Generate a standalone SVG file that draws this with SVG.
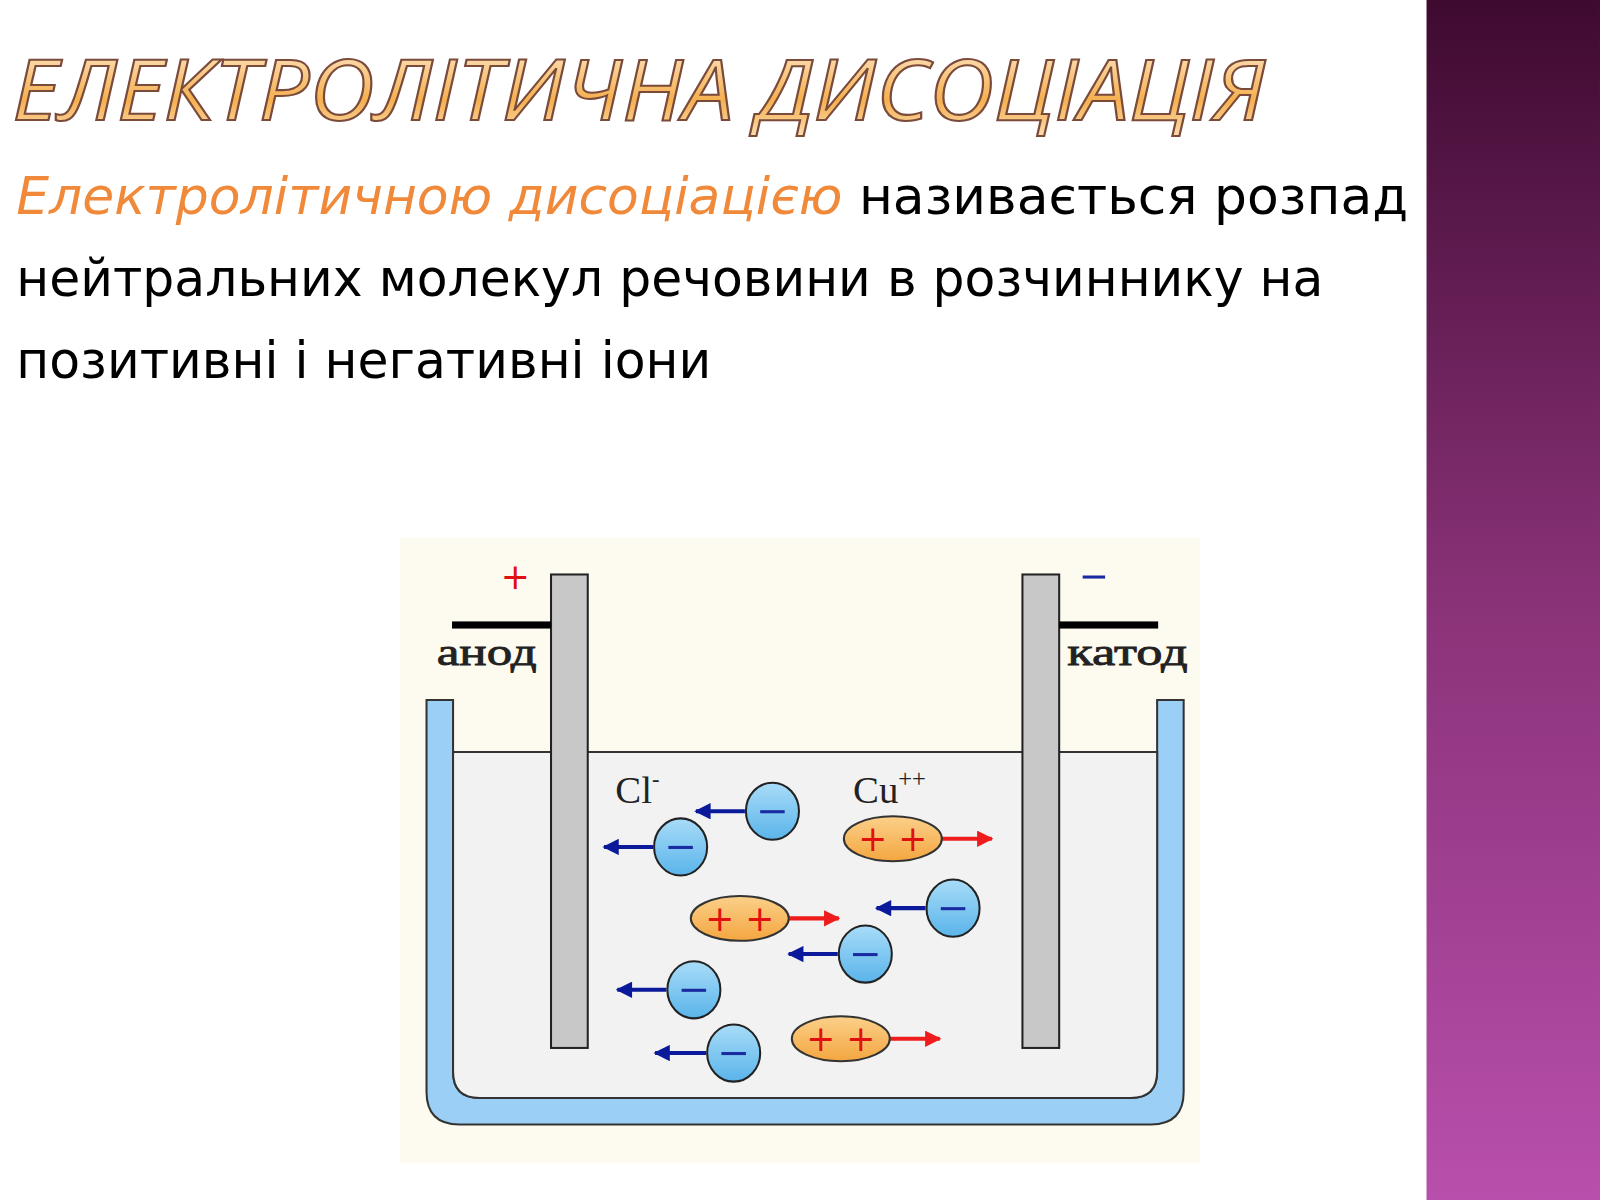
<svg xmlns="http://www.w3.org/2000/svg" width="1600" height="1200" viewBox="0 0 1600 1200">
<defs>
<linearGradient id="side" x1="0" y1="0" x2="0" y2="1"><stop offset="0" stop-color="#3e0a30"/><stop offset="0.5" stop-color="#8a3278"/><stop offset="1" stop-color="#b84fac"/></linearGradient>
<linearGradient id="tg" x1="0" y1="0" x2="0" y2="1"><stop offset="0" stop-color="#fff3e0"/><stop offset="0.6" stop-color="#f5b050"/><stop offset="1" stop-color="#fde6c4"/></linearGradient>
<linearGradient id="pg" x1="0" y1="0" x2="0" y2="1"><stop offset="0" stop-color="#fbd08a"/><stop offset="1" stop-color="#f4a640"/></linearGradient>
<linearGradient id="ng" x1="0" y1="0" x2="0" y2="1"><stop offset="0" stop-color="#a8dcf8"/><stop offset="1" stop-color="#5ab4ea"/></linearGradient>
<marker id="ab" viewBox="0 0 10 10" refX="9" refY="5" markerWidth="5" markerHeight="4" orient="auto"><path d="M0,0 L10,5 L0,10 z" fill="#0a1a9a"/></marker>
<marker id="ar" viewBox="0 0 10 10" refX="9" refY="5" markerWidth="5" markerHeight="4" orient="auto"><path d="M0,0 L10,5 L0,10 z" fill="#ee1c1c"/></marker>
</defs>
<style>
.body{font-family:"DejaVu Sans",sans-serif;font-size:50px;fill:#000}
.lab{font-family:"Liberation Serif",serif;font-size:38px;fill:#222}
.neg{fill:url(#ng);stroke:#222;stroke-width:2}
.pos{fill:url(#pg);stroke:#333;stroke-width:2}
.bl{stroke:#0a1a9a;stroke-width:4}
.rd{stroke:#ee1c1c;stroke-width:4}
.pm{font-family:"DejaVu Sans",sans-serif;font-size:34px;fill:#e01010;text-anchor:middle}
</style>
<rect width="1600" height="1200" fill="#fff"/>
<g transform="scale(1.0204)">
<rect x="1398" y="0" width="170" height="1176" fill="url(#side)"/>
<text x="12" y="118" textLength="1228" lengthAdjust="spacingAndGlyphs" font-family="Open Sans, DejaVu Sans, sans-serif" font-style="italic" font-size="82" fill="url(#tg)" stroke="#7a4a3a" stroke-width="2">ЕЛЕКТРОЛІТИЧНА ДИСОЦІАЦІЯ</text>
<text class="body" x="16" y="210" textLength="1364" lengthAdjust="spacingAndGlyphs"><tspan fill="#f08a3a" font-style="italic">Електролітичною дисоціацією</tspan> називається розпад</text>
<text class="body" x="16" y="290" textLength="1281" lengthAdjust="spacingAndGlyphs">нейтральних молекул речовини в розчиннику на</text>
<text class="body" x="16" y="370" textLength="681" lengthAdjust="spacingAndGlyphs">позитивні і негативні іони</text>
<g id="cell">
<rect x="392" y="527" width="784" height="613" fill="#fdfaf0"/>
<path d="M418,686 H444 V1050 Q444,1076 470,1076 H1108 Q1134,1076 1134,1050 V686 H1160 V1070 Q1160,1102 1128,1102 H450 Q418,1102 418,1070 Z" fill="#9ccff5" stroke="#333" stroke-width="2"/>
<path d="M444,737 H1134 V1050 Q1134,1076 1108,1076 H470 Q444,1076 444,1050 Z" fill="#f2f2f2" stroke="#333" stroke-width="2"/>
</g>
<g id="anode">
<rect x="540" y="563" width="36" height="464" fill="#c8c8c8" stroke="#222" stroke-width="2"/>
<rect x="443" y="609" width="97" height="7" fill="#000"/>
<text class="lab" x="428" y="652" textLength="98" lengthAdjust="spacingAndGlyphs" stroke="#222" stroke-width="0.8">анод</text>
<text class="pm" x="505" y="577">+</text>
</g>
<g id="cathode">
<rect x="1002" y="563" width="36" height="464" fill="#c8c8c8" stroke="#222" stroke-width="2"/>
<rect x="1038" y="609" width="97" height="7" fill="#000"/>
<text class="lab" x="1046" y="652" textLength="118" lengthAdjust="spacingAndGlyphs" stroke="#222" stroke-width="0.8">катод</text>
<rect x="1061" y="564" width="22" height="3" fill="#1a2aa0"/>
</g>
<text class="lab" x="603" y="787">Cl<tspan font-size="22" dy="-16">-</tspan></text>
<text class="lab" x="836" y="787">Cu<tspan font-size="24" dy="-16">++</tspan></text>
<g id="connectors">
<line class="bl" x1="730" y1="795" x2="682" y2="795" marker-end="url(#ab)"/>
<line class="bl" x1="640" y1="830" x2="592" y2="830" marker-end="url(#ab)"/>
<line class="bl" x1="907" y1="890" x2="859" y2="890" marker-end="url(#ab)"/>
<line class="bl" x1="821" y1="935" x2="773" y2="935" marker-end="url(#ab)"/>
<line class="bl" x1="653" y1="970" x2="605" y2="970" marker-end="url(#ab)"/>
<line class="bl" x1="692" y1="1032" x2="642" y2="1032" marker-end="url(#ab)"/>
<line class="rd" x1="923" y1="822" x2="972" y2="822" marker-end="url(#ar)"/>
<line class="rd" x1="773" y1="900" x2="822" y2="900" marker-end="url(#ar)"/>
<line class="rd" x1="872" y1="1018" x2="921" y2="1018" marker-end="url(#ar)"/>
</g>
<g id="anions">
<g><ellipse class="neg" cx="757" cy="795" rx="26" ry="28"/><rect x="745" y="794" width="24" height="3" fill="#1a2aa0"/></g>
<g><ellipse class="neg" cx="667" cy="830" rx="26" ry="28"/><rect x="655" y="829" width="24" height="3" fill="#1a2aa0"/></g>
<g><ellipse class="neg" cx="934" cy="890" rx="26" ry="28"/><rect x="922" y="889" width="24" height="3" fill="#1a2aa0"/></g>
<g><ellipse class="neg" cx="848" cy="935" rx="26" ry="28"/><rect x="836" y="934" width="24" height="3" fill="#1a2aa0"/></g>
<g><ellipse class="neg" cx="680" cy="970" rx="26" ry="28"/><rect x="668" y="969" width="24" height="3" fill="#1a2aa0"/></g>
<g><ellipse class="neg" cx="719" cy="1032" rx="26" ry="28"/><rect x="707" y="1031" width="24" height="3" fill="#1a2aa0"/></g>
</g>
<g id="cations">
<g><ellipse class="pos" cx="875" cy="822" rx="48" ry="22"/><text class="pm" x="875" y="834">+ +</text></g>
<g><ellipse class="pos" cx="725" cy="900" rx="48" ry="22"/><text class="pm" x="725" y="912">+ +</text></g>
<g><ellipse class="pos" cx="824" cy="1018" rx="48" ry="22"/><text class="pm" x="824" y="1030">+ +</text></g>
</g>
</g>
</svg>
